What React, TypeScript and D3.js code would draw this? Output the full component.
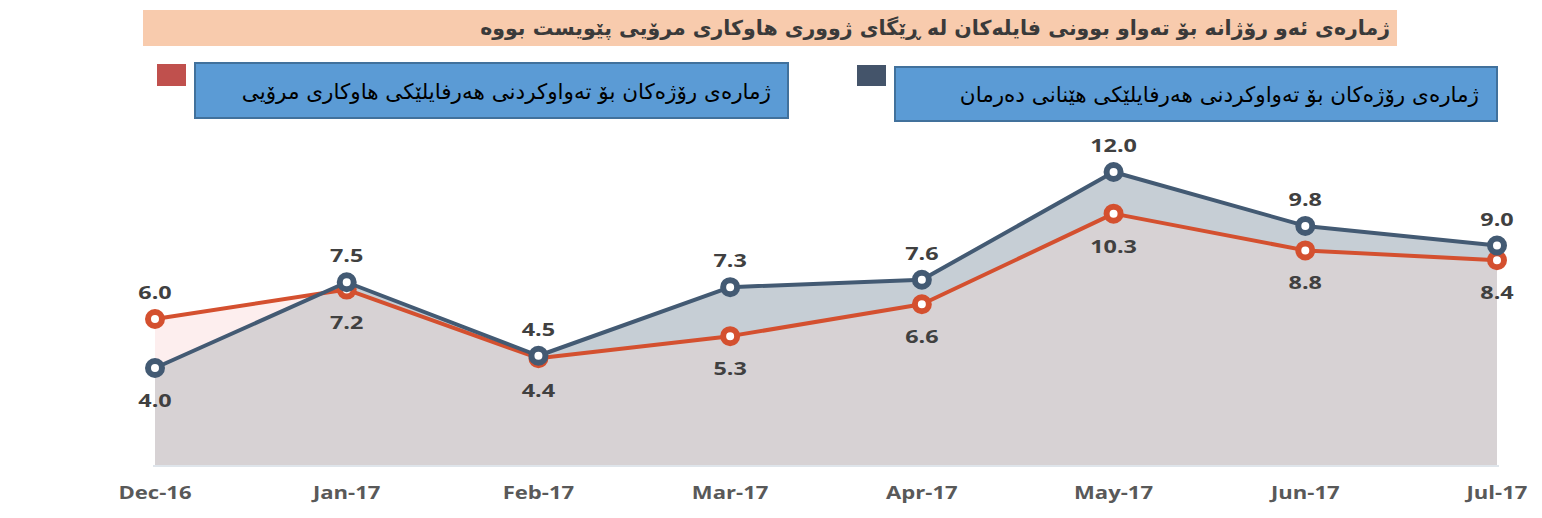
import React from 'react';
import * as d3 from 'd3';

const categories = ['Dec-16', 'Jan-17', 'Feb-17', 'Mar-17', 'Apr-17', 'May-17', 'Jun-17', 'Jul-17'];
const medicine = [4.0, 7.5, 4.5, 7.3, 7.6, 12.0, 9.8, 9.0];
const humanAid = [6.0, 7.2, 4.4, 5.3, 6.6, 10.3, 8.8, 8.4];
const titleText = 'ژمارەی ئەو رۆژانە بۆ تەواو بوونی فایلەکان لە ڕێگای ژووری هاوکاری مرۆیی پێویست بووە';
const legendHumanAid = 'ژمارەی رۆژەکان بۆ تەواوکردنی هەرفایلێکی هاوکاری مرۆیی';
const legendMedicine = 'ژمارەی رۆژەکان بۆ تەواوکردنی هەرفایلێکی هێنانی دەرمان';

const W = 1542;
const H = 518;
const RED = '#d4502f';
const DARK = '#435a73';

export default function App() {
  const x = d3.scalePoint<string>().domain(categories).range([155, 1497]);
  const y = d3.scaleLinear().domain([0, 13]).range([466, 147.5]);

  const area = (vals: number[]) =>
    d3.area<number>()
      .x((_, i) => x(categories[i]) as number)
      .y0(y(0))
      .y1((d) => y(d))(vals) as string;
  const line = (vals: number[]) =>
    d3.line<number>()
      .x((_, i) => x(categories[i]) as number)
      .y((d) => y(d))(vals) as string;

  const labels = (vals: number[], other: number[], color: string) =>
    vals.map((v, i) => {
      const above = v >= other[i];
      const cx = x(categories[i]) as number;
      const cy = y(v);
      const ty = above ? cy - 20 : cy + 39;
      return (
        <text
          key={color + i}
          transform={`translate(${cx},${ty}) scale(1.3,1)`}
          textAnchor="middle"
          fontFamily="Open Sans"
          fontWeight={700}
          fontSize={18}
          fill="#404040"
        >
          {v.toFixed(1)}
        </text>
      );
    });

  const markers = (vals: number[], color: string) =>
    vals.map((v, i) => (
      <circle
        key={color + 'm' + i}
        cx={x(categories[i]) as number}
        cy={y(v)}
        r={7}
        fill="#fff"
        stroke={color}
        strokeWidth={6}
      />
    ));

  return (
    <svg width={W} height={H} style={{ position: 'absolute', left: 0, top: 0, background: '#fff' }}>
      <defs>
        <clipPath id="darkClip">
          <path d={area(medicine)} />
        </clipPath>
      </defs>
      {/* title */}
      <rect x={143} y={10} width={1254} height={36} fill="#f8cbad" />
      <text x={1390} y={35} textAnchor="end" fontFamily="DejaVu Sans" fontWeight={700} fontSize={20.5} fill="#3a3a3a">
        {titleText}
      </text>
      {/* legend */}
      <rect x={157} y={64} width={29} height={22} fill="#c0504d" />
      <rect x={195} y={63} width={593} height={55} fill="#5b9bd5" stroke="#41719c" strokeWidth={2} />
      <text x={771} y={99} textAnchor="end" fontFamily="DejaVu Sans" fontSize={21.5} fill="#000">
        {legendHumanAid}
      </text>
      <rect x={857} y={65} width={29} height={21} fill="#44546a" />
      <rect x={895} y={67} width={602} height={54} fill="#5b9bd5" stroke="#41719c" strokeWidth={2} />
      <text x={1479} y={102} textAnchor="end" fontFamily="DejaVu Sans" fontSize={21.5} fill="#000">
        {legendMedicine}
      </text>

      {/* areas */}
      <path d={area(humanAid)} fill="#fdeeee" />
      <path d={area(medicine)} fill="#c6ced5" />
      <path d={area(humanAid)} fill="#d7d2d4" clipPath="url(#darkClip)" />
      <line x1={153} x2={1499} y1={y(0)} y2={y(0)} stroke="#dfe5eb" strokeWidth={2} />

      {/* lines */}
      <path d={line(humanAid)} fill="none" stroke={RED} strokeWidth={4} strokeLinejoin="round" />
      {markers(humanAid, RED)}
      <path d={line(medicine)} fill="none" stroke={DARK} strokeWidth={4} strokeLinejoin="round" />
      {markers(medicine, DARK)}

      {labels(humanAid, medicine, RED)}
      {labels(medicine, humanAid, DARK)}

      {/* x axis labels */}
      {categories.map((c) => (
        <text
          key={c}
          transform={`translate(${x(c) as number},${499}) scale(1.3,1)`}
          textAnchor="middle"
          fontFamily="Open Sans"
          fontWeight={700}
          fontSize={17}
          fill="#595959"
        >
          {c}
        </text>
      ))}
    </svg>
  );
}
